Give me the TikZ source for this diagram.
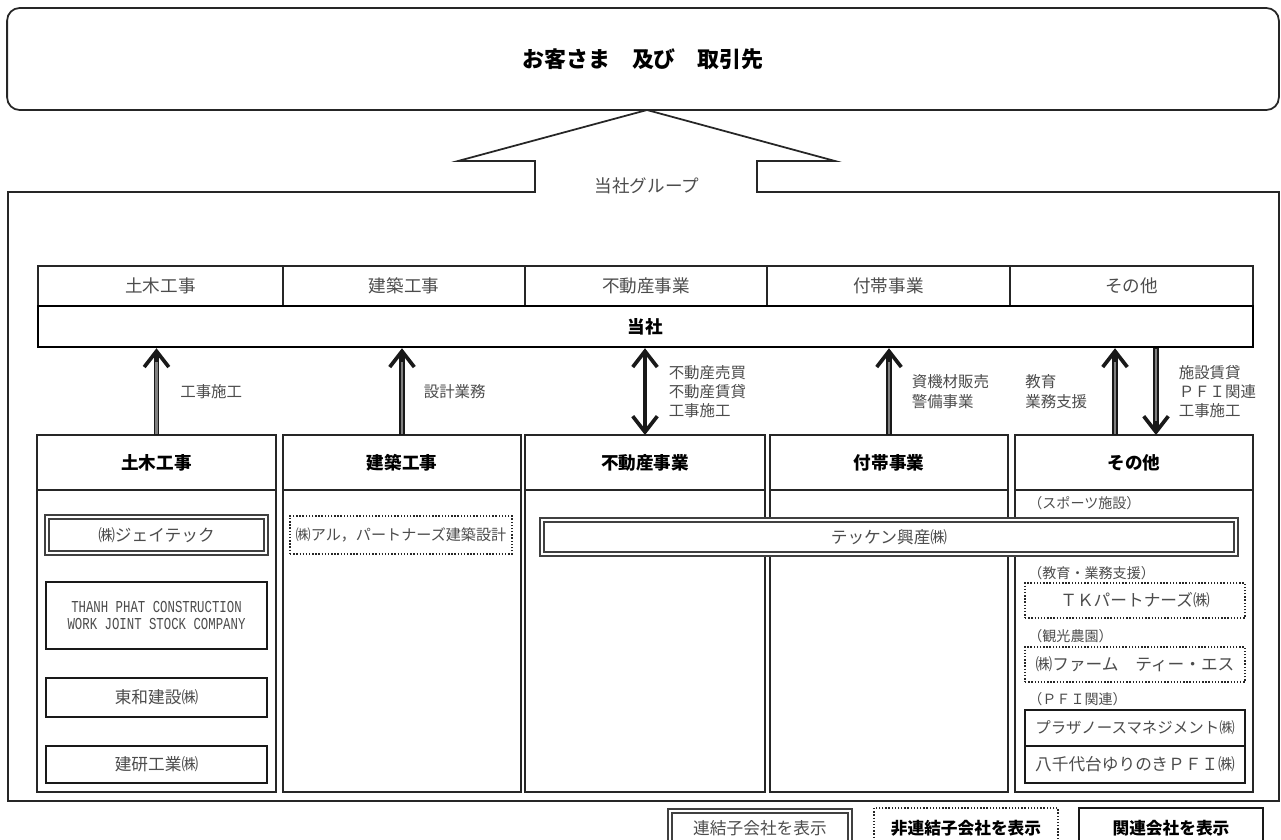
\documentclass[tikz,border=0pt]{standalone}
\usepackage{fontspec}
\setmainfont{Noto Sans CJK JP}
\newfontfamily\narrowlat[FakeStretch=0.74]{Liberation Mono}
\usepackage{tikz}
\usetikzlibrary{arrows.meta,positioning}
\tikzstyle{group frame} = [draw=black!85,line width=1pt]
\tikzstyle{seg cell} = [draw=black!85,line width=0.7pt,minimum height=0.8cm,inner sep=0pt,text=black!70,font=\fontsize{10pt}{12pt}\selectfont]
\tikzstyle{col head} = [draw=black!85,line width=0.9pt,minimum height=1.1cm,inner sep=0pt,outer sep=0pt,font=\bfseries\fontsize{10pt}{12pt}\selectfont]
\tikzstyle{col body} = [draw=black!85,line width=0.9pt,minimum height=6.04cm,inner sep=0pt,outer sep=0pt]
\tikzstyle{sub co} = [draw=black!75,double,double distance=1.5pt,line width=0.8pt,fill=white,inner sep=0pt,text=black!70,font=\fontsize{9.5pt}{11pt}\selectfont]
\tikzstyle{nc co} = [draw=black!85,densely dotted,line width=0.8pt,fill=white,inner sep=0pt,text=black!70,font=\fontsize{9.5pt}{11pt}\selectfont]
\tikzstyle{rel co} = [draw=black!90,line width=1pt,fill=white,inner sep=0pt,text=black!70,font=\fontsize{9.5pt}{11pt}\selectfont]
\tikzstyle{arrow lbl} = [inner sep=0pt,align=left,text=black!70,font=\fontsize{8.8pt}{11pt}\selectfont]
\tikzstyle{small lbl} = [anchor=west,inner sep=0pt,text=black!70,font=\fontsize{8pt}{10pt}\selectfont]

\begin{document}
\begin{tikzpicture}[x=0.02cm,y=-0.02cm,
  up arrow/.style={draw=black!90,line width=3.2pt,-{Straight Barb[length=9pt,width=14pt,line width=2.1pt]}},
  both arrow/.style={draw=black!90,line width=2pt,{Straight Barb[length=9pt,width=14pt,line width=2.1pt]}-{Straight Barb[length=9pt,width=14pt,line width=2.1pt]}},
  shaft core/.style={draw=black!50,line width=1.4pt,shorten >=8pt,shorten <=0.5pt}]
  \useasboundingbox (0,0) rectangle (1281,839);

  % customers
  \node[draw=black!85,line width=1pt,rounded corners=0.25cm,minimum width=25.44cm,minimum height=2.04cm,inner sep=0pt,font=\bfseries\fontsize{12.5pt}{14pt}\selectfont] (cust) at (643,59) {お客さま　及び　取引先};

  % group frame and big arrow
  \draw[group frame] (535,192) -- (8,192) -- (8,801) -- (1279,801) -- (1279,192) -- (757,192)
    -- (757,161) -- (835,161) -- (647,110) -- (458,161) -- (535,161) -- cycle;
  \node[text=black!70,font=\fontsize{10pt}{12pt}\selectfont] (grp) at (647,186) {当社グループ};

  % segments
  \node[seg cell,minimum width=4.9cm] (seg1) at (160.5,286) {土木工事};
  \node[seg cell,minimum width=4.84cm] (seg2) at (404,286) {建築工事};
  \node[seg cell,minimum width=4.84cm] (seg3) at (646,286) {不動産事業};
  \node[seg cell,minimum width=4.86cm] (seg4) at (888.5,286) {付帯事業};
  \node[seg cell,minimum width=4.86cm] (seg5) at (1131.5,286) {その他};
  \node[draw=black,line width=1.4pt,minimum width=24.3cm,minimum height=0.82cm,inner sep=0pt,font=\bfseries\fontsize{10pt}{12pt}\selectfont] (tosha) at (645.5,326.5) {当社};

  % columns
  \node[col head,minimum width=4.78cm] (h1) at (156.5,462.5) {土木工事};
  \node[col body,minimum width=4.78cm,below=0pt of h1] (b1) {};
  \node[col head,minimum width=4.76cm] (h2) at (402,462.5) {建築工事};
  \node[col body,minimum width=4.76cm,below=0pt of h2] (b2) {};
  \node[col head,minimum width=4.8cm] (h3) at (645,462.5) {不動産事業};
  \node[col body,minimum width=4.8cm,below=0pt of h3] (b3) {};
  \node[col head,minimum width=4.76cm] (h4) at (889,462.5) {付帯事業};
  \node[col body,minimum width=4.76cm,below=0pt of h4] (b4) {};
  \node[col head,minimum width=4.76cm] (h5) at (1134,462.5) {その他};
  \node[col body,minimum width=4.76cm,below=0pt of h5] (b5) {};

  % companies
  \node[sub co,minimum width=4.38cm,minimum height=0.72cm] (jtec) at (156.5,535) {㈱ジェイテック};
  \node[rel co,minimum width=4.42cm,minimum height=1.34cm,align=center,font=\narrowlat\fontsize{9.5pt}{9.7pt}\selectfont] (thanh) at (156.5,615.5) {THANH PHAT CONSTRUCTION\\WORK JOINT STOCK COMPANY};
  \node[rel co,minimum width=4.42cm,minimum height=0.78cm] (towa) at (156.5,697.5) {東和建設㈱};
  \node[rel co,minimum width=4.42cm,minimum height=0.74cm] (kenken) at (156.5,764.5) {建研工業㈱};
  \node[nc co,minimum width=4.44cm,minimum height=0.76cm,font=\fontsize{8.6pt}{10pt}\selectfont] (aru) at (401,535) {㈱アル，パートナーズ建築設計};
  \node[sub co,minimum width=13.88cm,minimum height=0.68cm] (tekken) at (889,537) {テッケン興産㈱};

  \node[small lbl] (lsport) at (1028,503) {（スポーツ施設）};
  \node[small lbl] (ledu) at (1028,573) {（教育・業務支援）};
  \node[nc co,minimum width=4.4cm,minimum height=0.7cm] (tk) at (1135,600.5) {ＴＫパートナーズ㈱};
  \node[small lbl] (lfarm) at (1028,636) {（観光農園）};
  \node[nc co,minimum width=4.4cm,minimum height=0.7cm] (farm) at (1135,664.5) {㈱ファーム　ティー・エス};
  \node[small lbl] (lpfi) at (1028,699) {（ＰＦＩ関連）};
  \node[rel co,minimum width=4.4cm,minimum height=0.72cm,font=\fontsize{8.8pt}{10pt}\selectfont] (plaza) at (1135,728) {プラザノースマネジメント㈱};
  \node[rel co,minimum width=4.4cm,minimum height=0.74cm] (yachiyo) at (1135,764.5) {八千代台ゆりのきＰＦＩ㈱};

  % arrows between columns and 当社
  \coordinate (u1) at (tosha.south -| h1);
  \coordinate (u2) at (tosha.south -| h2);
  \coordinate (u3) at (tosha.south -| h3);
  \coordinate (u4) at (tosha.south -| h4);
  \coordinate (p5) at ([xshift=-0.38cm]h5.north);
  \coordinate (u5) at (tosha.south -| p5);
  \coordinate (d5) at ([xshift=0.44cm]h5.north);
  \coordinate (q5) at (tosha.south -| d5);

  \path
    (h1) edge[up arrow] node[arrow lbl,anchor=west,xshift=0.42cm] {工事施工} (u1)
    (h1) edge[shaft core] (u1)
    (h2) edge[up arrow] node[arrow lbl,anchor=west,xshift=0.38cm] {設計業務} (u2)
    (h2) edge[shaft core] (u2)
    (h3) edge[both arrow] node[arrow lbl,anchor=west,xshift=0.44cm] {不動産売買\\不動産賃貸\\工事施工} (u3)
    (h4) edge[up arrow] node[arrow lbl,anchor=west,xshift=0.4cm] {資機材販売\\警備事業} (u4)
    (h4) edge[shaft core] (u4)
    (p5) edge[up arrow] node[arrow lbl,anchor=east,xshift=-0.5cm] {教育\\業務支援} (u5)
    (p5) edge[shaft core] (u5)
    (q5) edge[up arrow] node[arrow lbl,anchor=west,xshift=0.4cm] {施設賃貸\\ＰＦＩ関連\\工事施工} (d5)
    (q5) edge[shaft core] (d5);

  % legend
  \node[sub co,minimum width=3.6cm,minimum height=0.68cm] (leg1) at (760,828) {連結子会社を表示};
  \node[nc co,minimum width=3.68cm,minimum height=0.8cm,text=black,font=\bfseries\fontsize{9.5pt}{11pt}\selectfont] (leg2) at (966,828) {非連結子会社を表示};
  \node[rel co,line width=1.2pt,minimum width=3.68cm,minimum height=0.8cm,text=black,font=\bfseries\fontsize{9.5pt}{11pt}\selectfont] (leg3) at (1171,828) {関連会社を表示};

\end{tikzpicture}
\end{document}
